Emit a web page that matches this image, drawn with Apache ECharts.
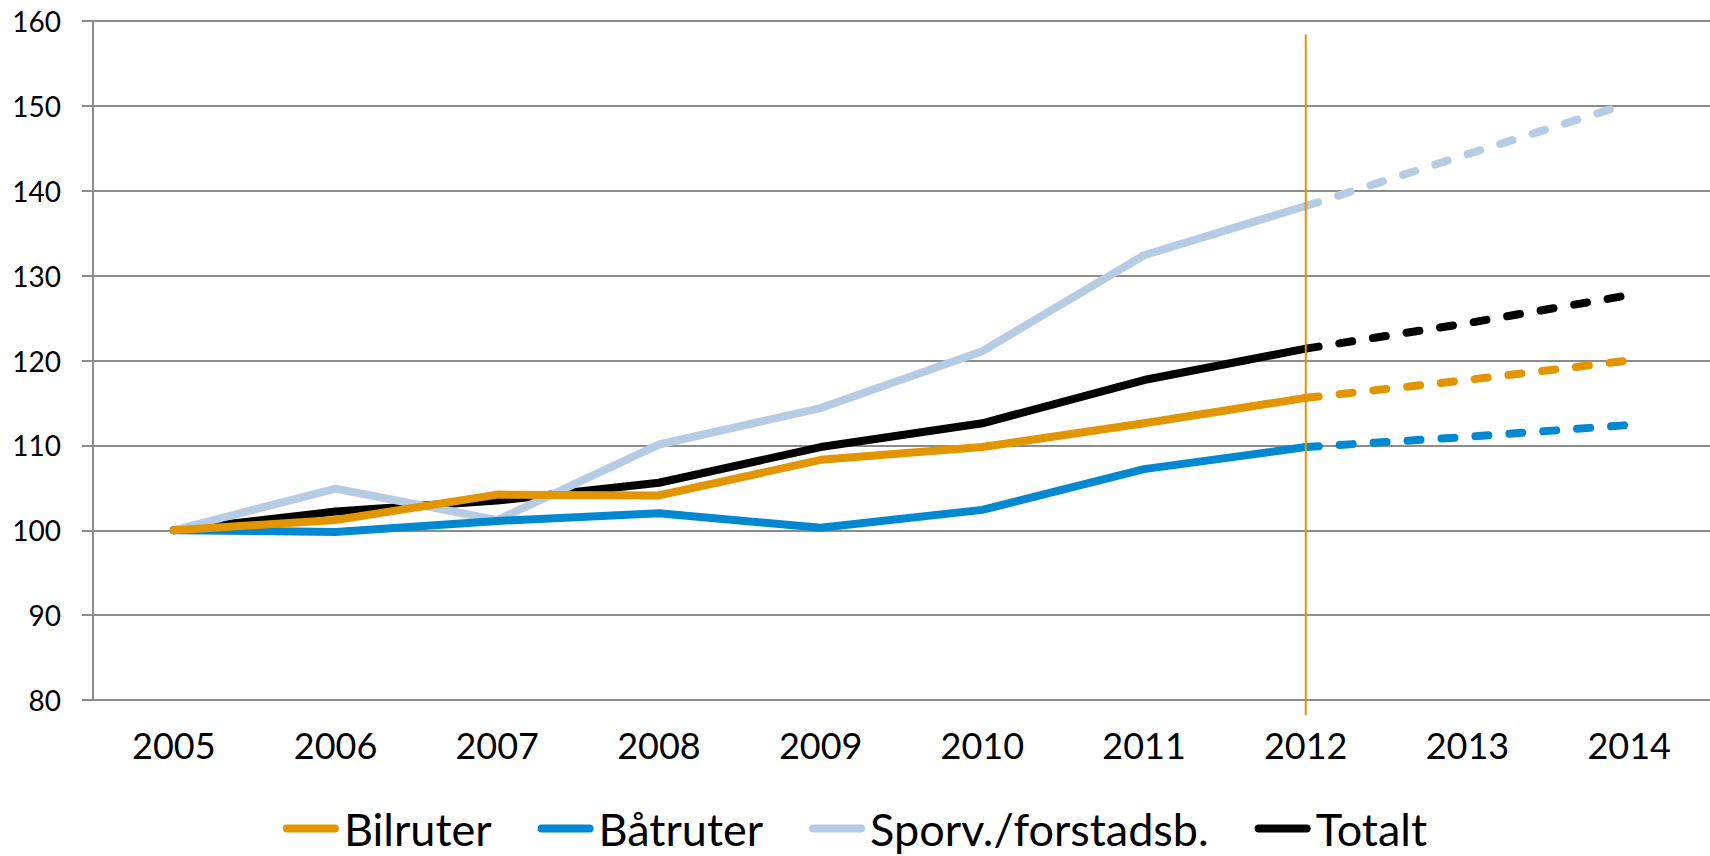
<!DOCTYPE html>
<html>
<head>
<meta charset="utf-8">
<script src="https://cdn.jsdelivr.net/npm/echarts@6/dist/echarts.min.js"></script>
<style>
  html, body { margin: 0; padding: 0; background: #fff; }
  #chart { width: 1710px; height: 856px; }
</style>
</head>
<body>
<div id="chart"></div>
<script>
var years = ['2005','2006','2007','2008','2009','2010','2011','2012','2013','2014'];
var names = ['Bilruter', 'Båtruter', 'Sporv./forstadsb.', 'Totalt'];
var colors = ['#E39500', '#0089D0', '#B6CBE4', '#000000'];

// index values, 2005 = 100; 2013-2014 are the dashed forecast part
var bilruter = [100, 101.2, 104.2, 104.1, 108.3, 109.8, 112.6, 115.6, 117.7, 120.0];
var batruter = [100, 99.8, 101.1, 102.0, 100.3, 102.4, 107.2, 109.8, 111.0, 112.4];
var sporv    = [100, 104.9, 101.2, 110.1, 114.4, 121.1, 132.4, 138.2, 144.3, 150.3];
var totalt   = [100, 102.2, 103.5, 105.6, 109.8, 112.6, 117.7, 121.4, 124.4, 127.7];

var lastActual = 7; // index of 2012
var yTicks = { min: 80, max: 160, interval: 10 };
// vertical divider line at 2012, drawn a bit past the axis like the original
var dividerYear = '2012';
var dividerRange = [158.4, 78.2];

var chart = echarts.init(document.getElementById('chart'), null, { renderer: 'svg' });

function solidPart(arr) {
  return arr.map(function (v, i) { return i <= lastActual ? v : '-'; });
}
function dashedPart(arr) {
  return arr.map(function (v, i) { return i >= lastActual ? v : '-'; });
}

var allData = [bilruter, batruter, sporv, totalt];
var series = [];
allData.forEach(function (arr, k) {
  series.push({
    name: names[k],
    type: 'line',
    data: solidPart(arr),
    symbol: 'none',
    lineStyle: { color: colors[k], width: 8, cap: 'round', join: 'round' },
    itemStyle: { color: colors[k] },
    z: 10 - k
  });
});
allData.forEach(function (arr, k) {
  series.push({
    name: names[k] + ' prognose',
    type: 'line',
    data: dashedPart(arr),
    symbol: 'none',
    lineStyle: { color: colors[k], width: 8, type: [13, 21], cap: 'round' },
    itemStyle: { color: colors[k] },
    z: 10 - k
  });
});

chart.setOption({
  animation: false,
  grid: { left: 93, top: 21, bottom: 156, width: 1624 },
  legend: {
    data: names,
    bottom: 0,
    left: 'center',
    itemWidth: 56,
    itemHeight: 8,
    itemGap: 46,
    icon: 'path://M4,0 L52,0 A4,4 0 0 1 52,8 L4,8 A4,4 0 0 1 4,0 Z',
    textStyle: { fontFamily: 'Lato', fontSize: 45, color: '#000' }
  },
  xAxis: {
    type: 'category',
    data: years,
    boundaryGap: true,
    axisLine: { lineStyle: { color: '#8C8C8C', width: 2 } },
    axisTick: { length: 12, lineStyle: { color: '#8C8C8C', width: 2 } },
    axisLabel: { fontFamily: 'Lato', fontSize: 36, color: '#000', margin: 27 }
  },
  yAxis: {
    type: 'value',
    min: yTicks.min,
    max: yTicks.max,
    interval: yTicks.interval,
    axisLine: { show: true, lineStyle: { color: '#8C8C8C', width: 2 } },
    axisTick: { show: true, length: 11, lineStyle: { color: '#8C8C8C', width: 2 } },
    axisLabel: { fontFamily: 'Lato', fontSize: 28, color: '#000', margin: 32 },
    splitLine: { lineStyle: { color: '#8C8C8C', width: 2 } }
  },
  series: series
});

var divTop = chart.convertToPixel({ xAxisIndex: 0, yAxisIndex: 0 }, [dividerYear, dividerRange[0]]);
var divBot = chart.convertToPixel({ xAxisIndex: 0, yAxisIndex: 0 }, [dividerYear, dividerRange[1]]);
chart.setOption({
  graphic: [{
    type: 'line',
    silent: true,
    z: 20,
    shape: { x1: divTop[0], y1: divTop[1], x2: divBot[0], y2: divBot[1] },
    style: { stroke: '#E39500', lineWidth: 2 }
  }]
});
</script>
</body>
</html>
